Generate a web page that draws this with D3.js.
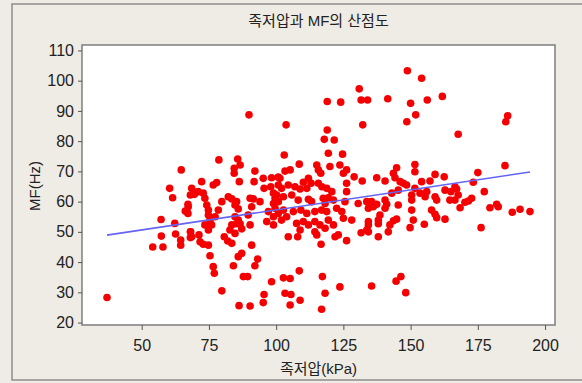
<!DOCTYPE html>
<html>
<head>
<meta charset="utf-8">
<script src="https://cdn.jsdelivr.net/npm/d3@7"></script>
<style>
  html, body { margin: 0; padding: 0; background: #efece5; }
  svg { display: block; }
  text { font-family: "Liberation Sans", Arial, "Noto Sans CJK KR", sans-serif; fill: #222; }
</style>
</head>
<body>
<svg id="chart" width="582" height="383"></svg>
<script>
// Plantar pressure (kPa) for each subject
const pressure = [
  64.7, 60.4, 61.5, 57.2, 62.3, 57.3, 54.1, 57.9, 62.6, 64.5, 64.5, 66.2, 67.2, 67.2, 68.1, 68.1, 68.1, 37.1,
  89.9, 78.7, 85.7, 86.6, 84.4, 84.4, 92.1, 86.3, 91.8, 95.2, 98.3, 100.8, 95.5, 98.0, 72.3, 68.6, 69.6, 76.6,
  77.9, 71.0, 72.9, 73.5, 74.2, 74.8, 67.3, 66.7, 78.5, 79.8, 82.2, 83.5, 84.7, 85.3, 85.9, 90.3, 91.5, 90.9,
  94.0, 99.0, 100.2, 99.6, 99.0, 100.8, 97.1, 99.0, 99.0, 96.5, 74.8, 75.4, 76.0, 74.8, 73.5, 77.3, 68.2, 68.6,
  71.3, 71.7, 72.9, 74.8, 80.7, 82.0, 83.5, 82.8, 84.7, 83.5, 85.3, 85.9, 84.7, 86.6, 87.2, 90.3, 89.6, 90.9,
  75.4, 87.2, 85.9, 93.1, 92.1, 84.1, 76.6, 77.0, 87.8, 89.4, 79.8, 98.3, 95.5, 95.2, 86.2, 90.3,
  130.9, 131.6, 134.0, 119.0, 124.0, 103.7, 132.2, 119.0, 117.9, 121.6, 119.4, 124.7, 103.0, 108.6, 105.2, 103.3,
  115.1, 115.7, 116.6, 120.0, 123.7, 126.2, 125.0, 129.0, 101.4, 100.8, 102.0, 112.0, 110.1, 113.0, 104.5, 107.0,
  108.9, 111.4, 115.7, 117.0, 118.8, 120.7, 126.2, 126.2, 132.0, 102.7, 105.8, 108.2, 112.0, 113.2, 117.5, 119.4,
  121.3, 118.2, 125.6, 130.5, 133.7, 99.6, 100.8, 102.7, 103.9, 102.0, 106.4, 109.2, 111.4, 114.4, 116.9, 118.8,
  122.5, 124.4, 107.6, 110.1, 112.0, 114.4, 116.3, 119.4, 121.3, 125.0, 128.1, 108.9, 114.4, 118.2, 121.9, 123.1,
  104.5, 108.0, 115.1, 116.7, 126.2, 131.6, 134.3, 133.7, 108.6, 102.7, 105.2, 117.2, 103.3, 105.5, 108.9, 105.2,
  118.2, 123.7, 116.9,
  148.8, 154.1, 141.5, 150.0, 156.2, 161.8, 151.9, 148.6, 167.7, 144.8, 143.6, 144.2, 146.1, 151.6, 151.6, 137.4,
  140.5, 147.3, 148.5, 154.1, 157.2, 159.1, 162.5, 151.6, 150.4, 153.5, 156.0, 155.4, 159.1, 159.7, 162.8, 165.0,
  166.5, 145.4, 143.0, 135.5, 137.4, 140.5, 141.1, 150.4, 164.6, 134.3, 136.1, 140.5, 145.4, 150.4, 157.8, 159.1,
  159.7, 162.8, 138.6, 138.0, 143.6, 144.8, 151.0, 134.3, 138.0, 142.3, 149.8, 155.1, 134.3, 138.0, 141.7, 135.5,
  144.6, 146.4, 148.2,
  186.1, 185.4, 185.1, 175.0, 173.3, 177.4, 167.1, 167.7, 166.5, 172.7, 171.5, 170.2, 168.4, 179.5, 182.0, 182.6,
  187.8, 190.7, 194.4, 176.2
];

// Median frequency (Hz) for the same subjects, in the same order
const mf = [
  70.5, 64.4, 61.3, 54.1, 52.8, 48.6, 45.0, 45.0, 49.3, 47.3, 45.6, 56.9, 56.1, 59.1, 62.2, 50.0, 48.1, 28.3,
  88.7, 73.8, 74.1, 72.1, 71.0, 69.4, 70.1, 66.6, 66.6, 67.7, 67.9, 68.1, 64.4, 64.9, 66.6, 64.4, 62.4, 65.5,
  66.3, 63.3, 62.8, 61.1, 58.9, 57.2, 58.3, 56.7, 57.2, 60.0, 61.6, 60.9, 58.9, 60.0, 57.6, 61.1, 60.9, 58.3,
  60.0, 62.8, 62.2, 61.1, 59.4, 60.0, 56.7, 55.0, 52.3, 53.4, 55.6, 53.9, 52.3, 50.6, 52.3, 55.0, 50.0, 48.4,
  49.0, 46.7, 45.9, 45.6, 48.4, 47.0, 46.2, 50.6, 49.5, 52.3, 52.7, 53.9, 55.0, 52.7, 51.0, 52.3, 55.6, 45.6,
  42.1, 42.9, 41.8, 41.0, 38.8, 38.8, 38.5, 36.3, 35.2, 35.2, 30.5, 33.5, 29.3, 26.6, 25.6, 25.5,
  97.3, 93.6, 93.6, 93.1, 92.9, 85.4, 85.4, 83.7, 80.6, 80.4, 76.0, 75.7, 75.4, 72.4, 70.5, 70.1,
  72.1, 70.5, 69.4, 71.6, 72.1, 70.5, 69.4, 68.2, 67.7, 65.5, 64.4, 67.7, 66.4, 66.1, 65.5, 64.9,
  64.2, 64.4, 66.1, 64.9, 64.4, 63.3, 66.1, 63.3, 66.8, 61.6, 62.2, 60.5, 60.8, 60.0, 61.1, 61.3,
  60.5, 59.4, 60.0, 59.4, 60.0, 57.8, 56.1, 57.2, 55.0, 53.9, 56.7, 57.2, 56.1, 56.7, 57.2, 56.7,
  57.8, 56.7, 52.8, 53.4, 52.3, 53.4, 52.3, 53.9, 52.3, 54.5, 53.9, 50.6, 50.0, 51.2, 48.4, 49.0,
  48.4, 48.4, 49.0, 45.9, 47.1, 49.7, 53.4, 50.6, 37.1, 34.8, 34.6, 35.2, 29.7, 29.3, 27.4, 25.8,
  29.7, 31.8, 24.4,
  103.3, 100.8, 94.0, 92.5, 93.6, 94.8, 88.7, 86.4, 82.3, 71.2, 69.4, 67.9, 66.6, 72.3, 69.9, 67.9,
  66.8, 66.1, 65.5, 66.6, 66.8, 69.0, 68.2, 64.4, 62.2, 62.8, 63.3, 61.6, 61.6, 60.5, 63.8, 63.3,
  64.9, 63.8, 62.8, 60.0, 59.1, 60.5, 59.1, 60.5, 60.5, 57.8, 58.3, 57.8, 58.9, 57.2, 57.2, 55.8,
  54.7, 54.2, 55.6, 53.9, 53.7, 54.2, 53.9, 52.3, 52.7, 52.3, 51.4, 52.5, 50.0, 48.4, 50.0, 32.1,
  33.7, 35.2, 29.9,
  88.4, 86.4, 71.9, 69.6, 66.4, 63.3, 64.2, 62.2, 60.5, 61.1, 60.2, 59.8, 58.0, 58.0, 59.1, 58.3,
  56.5, 57.5, 56.7, 51.4
];

// Axis ticks
const xTicks = [50, 75, 100, 125, 150, 175, 200];
const yTicks = [20, 30, 40, 50, 60, 70, 80, 90, 100, 110];

// Least-squares fit: MF = intercept + slope * pressure
const fitIntercept = 44.0;
const fitSlope = 0.1327;

const titleText = "족저압과 MF의 산점도";
const xTitle = "족저압(kPa)";
const yTitle = "MF(Hz)";

const svg = d3.select("#chart");
const W = 582, H = 383;
const plot = { left: 82, right: 555, top: 45, bottom: 325 };

// Outer panel
svg.append("rect")
  .attr("x", 0).attr("y", 0).attr("width", W).attr("height", H)
  .attr("fill", "#efece5");
svg.append("rect")
  .attr("x", 12).attr("y", 4).attr("width", 600).attr("height", 376)
  .attr("fill", "none").attr("stroke", "#8c8c8c").attr("stroke-width", 1.5);

const x = d3.scaleLinear().domain([27.8, 203.7]).range([plot.left, plot.right]);
const y = d3.scaleLinear().domain([19.2, 111.8]).range([plot.bottom, plot.top]);

// Data region
svg.append("rect")
  .attr("x", plot.left).attr("y", plot.top)
  .attr("width", plot.right - plot.left).attr("height", plot.bottom - plot.top)
  .attr("fill", "#ffffff");

// Points
const points = pressure.map((p, i) => ({ p, m: mf[i] }));
svg.append("g")
  .selectAll("circle")
  .data(points)
  .join("circle")
  .attr("cx", d => x(d.p))
  .attr("cy", d => y(d.m))
  .attr("r", 3.8)
  .attr("fill", "#f50000");

// Fitted line across the observed pressure range
const [pMin, pMax] = d3.extent(pressure);
svg.append("line")
  .attr("x1", x(pMin)).attr("y1", y(fitIntercept + fitSlope * pMin))
  .attr("x2", x(pMax)).attr("y2", y(fitIntercept + fitSlope * pMax))
  .attr("stroke", "#6464f0").attr("stroke-width", 1.6);

// Frame around the data region
svg.append("rect")
  .attr("x", plot.left).attr("y", plot.top)
  .attr("width", plot.right - plot.left).attr("height", plot.bottom - plot.top)
  .attr("fill", "none").attr("stroke", "#7d7d7d").attr("stroke-width", 1.5);

// Axes
const xAxis = svg.append("g")
  .attr("transform", `translate(0,${plot.bottom})`)
  .call(d3.axisBottom(x).tickValues(xTicks).tickSize(5).tickPadding(10).tickFormat(d3.format("d")));
xAxis.select(".domain").remove();
xAxis.selectAll(".tick line").attr("stroke", "#555");
xAxis.selectAll(".tick text").attr("font-size", 16).attr("fill", "#222")
  .style("font-family", '"Liberation Sans", Arial, sans-serif');

const yAxis = svg.append("g")
  .attr("transform", `translate(${plot.left},0)`)
  .call(d3.axisLeft(y).tickValues(yTicks).tickSize(4).tickPadding(4).tickFormat(d3.format("d")));
yAxis.select(".domain").remove();
yAxis.selectAll(".tick line").attr("stroke", "#555");
yAxis.selectAll(".tick text").attr("font-size", 16).attr("fill", "#222")
  .style("font-family", '"Liberation Sans", Arial, sans-serif');

// Titles
svg.append("text")
  .attr("x", (plot.left + plot.right) / 2).attr("y", 26)
  .attr("text-anchor", "middle").attr("font-size", 15)
  .text(titleText);

svg.append("text")
  .attr("x", (plot.left + plot.right) / 2).attr("y", 374)
  .attr("text-anchor", "middle").attr("font-size", 15)
  .text(xTitle);

svg.append("text")
  .attr("transform", `translate(40,186) rotate(-90)`)
  .attr("text-anchor", "middle").attr("font-size", 15)
  .text(yTitle);
</script>
</body>
</html>
